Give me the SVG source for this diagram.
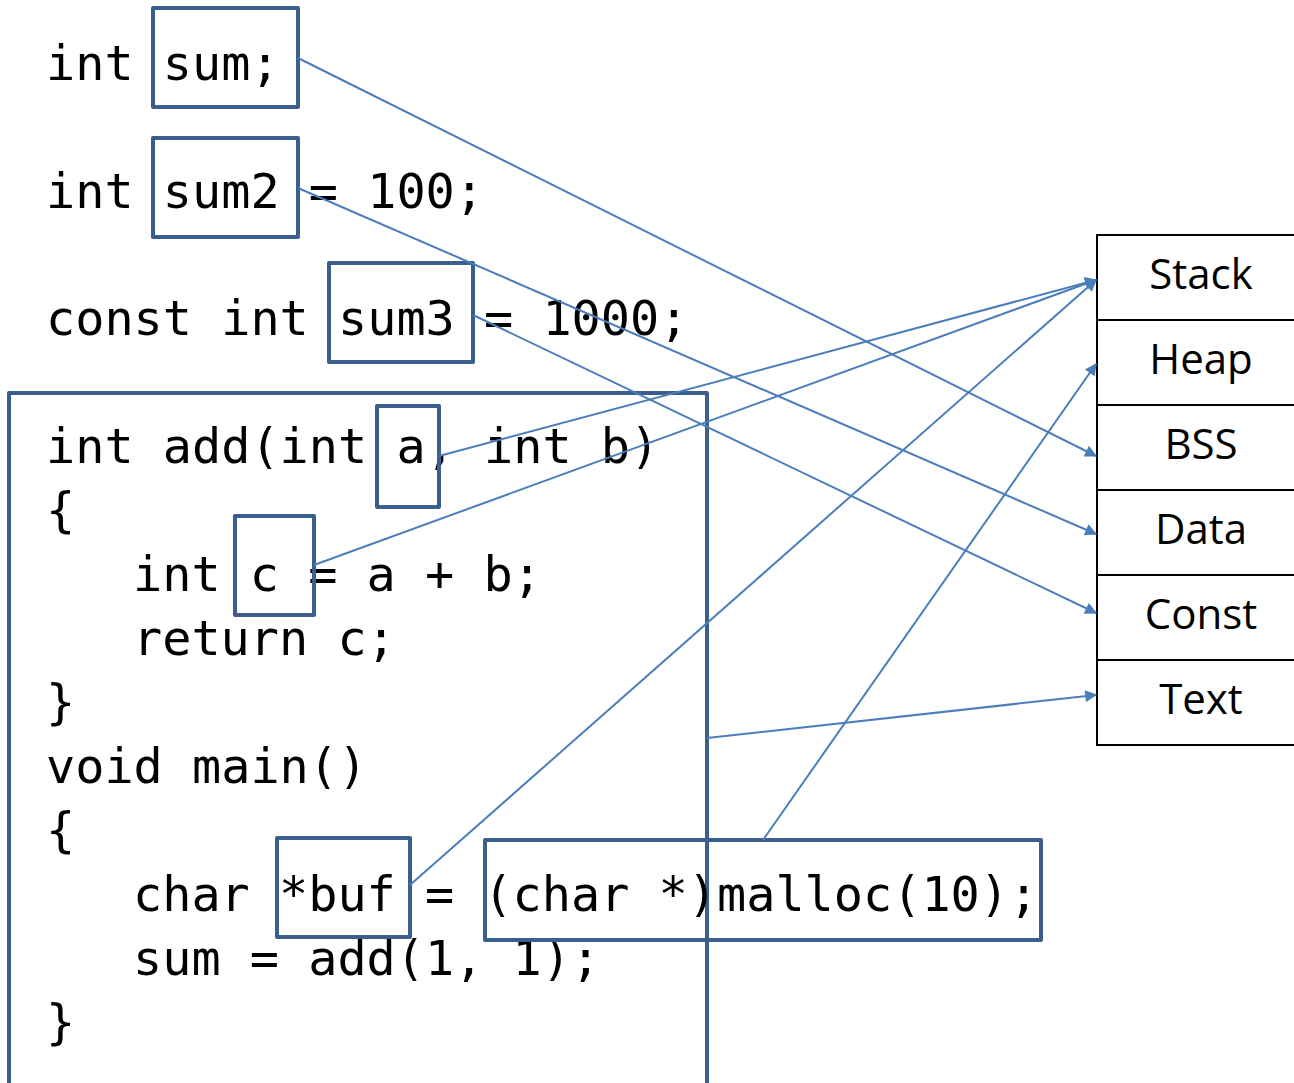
<svg xmlns="http://www.w3.org/2000/svg" width="1294" height="1083" viewBox="0 0 1294 1083">
  <style>
    .code { font-family: "DejaVu Sans Mono", "Liberation Mono", monospace; font-size: 48.5px; fill: #000; white-space: pre; }
    .hl { fill: none; stroke: #3A5F8E; stroke-width: 4; stroke-linejoin: round; }
    .seg { fill: #fff; stroke: #000; stroke-width: 2; }
    .segtext { font-family: "Open Sans", "Noto Sans", "Liberation Sans", sans-serif; font-size: 42px; fill: #000; text-anchor: middle; }
    .link { fill: none; stroke: #4A7EBB; stroke-width: 2; marker-end: url(#arrow); }
  </style>
  <defs>
    <marker id="arrow" viewBox="0 0 10 10" refX="9" refY="5" markerWidth="15" markerHeight="12" markerUnits="userSpaceOnUse" orient="auto">
      <path d="M0,0 L10,5 L0,10 z" fill="#4A7EBB"/>
    </marker>
  </defs>
  <rect width="1294" height="1083" fill="#fff"/>

  <!-- global declarations -->
  <g id="decl-sum">
    <text class="code" x="46" y="80">int sum;</text>
    <rect class="hl" x="153" y="8" width="145" height="99"/>
  </g>
  <g id="decl-sum2">
    <text class="code" x="46" y="208">int sum2 = 100;</text>
    <rect class="hl" x="153" y="138" width="145" height="99"/>
  </g>
  <g id="decl-sum3">
    <text class="code" x="46" y="335">const int sum3 = 1000;</text>
    <rect class="hl" x="329" y="263" width="144" height="99"/>
  </g>

  <!-- function bodies -->
  <g id="functions">
    <rect class="hl" x="9" y="393" width="698" height="710"/>
    <text class="code" x="46" y="463">int add(int a, int b)</text>
    <text class="code" x="46" y="527">{</text>
    <text class="code" x="133" y="591">int c = a + b;</text>
    <text class="code" x="133" y="655">return c;</text>
    <text class="code" x="46" y="719">}</text>
    <text class="code" x="46" y="783">void main()</text>
    <text class="code" x="46" y="847">{</text>
    <text class="code" x="133" y="911">char *buf = (char *)malloc(10);</text>
    <text class="code" x="133" y="975">sum = add(1, 1);</text>
    <text class="code" x="46" y="1039">}</text>
  </g>
  <g id="param-a"><rect class="hl" x="377" y="406" width="62" height="101"/></g>
  <g id="local-c"><rect class="hl" x="235" y="516" width="79" height="99"/></g>
  <g id="ptr-buf"><rect class="hl" x="277" y="838" width="133" height="99"/></g>
  <g id="malloc-call"><rect class="hl" x="485" y="840" width="556" height="100"/></g>

  <!-- memory segments -->
  <g id="mem-stack"><rect class="seg" x="1097" y="235" width="210" height="85"/><text class="segtext" x="1201" y="289">Stack</text></g>
  <g id="mem-heap"><rect class="seg" x="1097" y="320" width="210" height="85"/><text class="segtext" x="1201" y="374">Heap</text></g>
  <g id="mem-bss"><rect class="seg" x="1097" y="405" width="210" height="85"/><text class="segtext" x="1201" y="459">BSS</text></g>
  <g id="mem-data"><rect class="seg" x="1097" y="490" width="210" height="85"/><text class="segtext" x="1201" y="544">Data</text></g>
  <g id="mem-const"><rect class="seg" x="1097" y="575" width="210" height="85"/><text class="segtext" x="1201" y="629">Const</text></g>
  <g id="mem-text"><rect class="seg" x="1097" y="660" width="210" height="85"/><text class="segtext" x="1201" y="714">Text</text></g>

  <!-- connectors -->
  <g id="connectors">
    <line class="link" x1="298" y1="58" x2="1096" y2="456"/>
    <line class="link" x1="298" y1="188" x2="1096" y2="534"/>
    <line class="link" x1="473" y1="315" x2="1096" y2="613"/>
    <line class="link" x1="439" y1="456" x2="1096" y2="280"/>
    <line class="link" x1="314" y1="565" x2="1096" y2="280"/>
    <line class="link" x1="410" y1="885" x2="1096" y2="280"/>
    <line class="link" x1="763" y1="840" x2="1096" y2="364"/>
    <line class="link" x1="707" y1="738" x2="1096" y2="695"/>
  </g>
</svg>
